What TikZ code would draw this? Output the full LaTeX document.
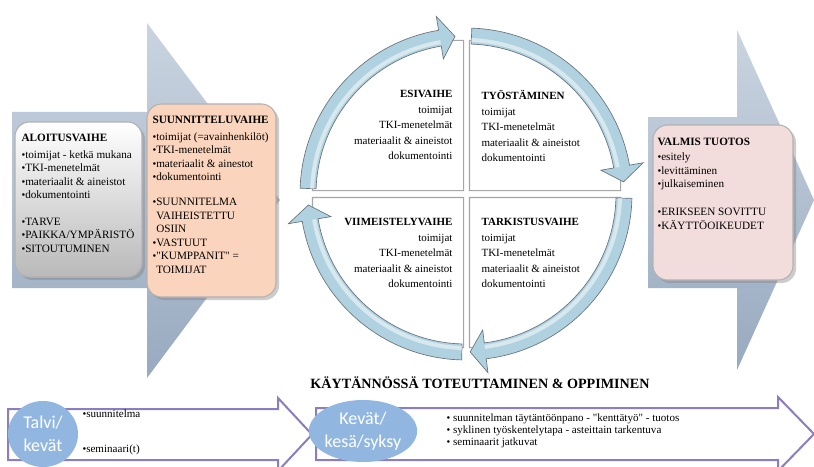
\documentclass[tikz,border=0pt]{standalone}
\usepackage{fontspec}
\setmainfont{Liberation Serif}
\newfontfamily\calibri{Carlito}
\usetikzlibrary{shapes.geometric,shadows}

\definecolor{chevlight}{RGB}{202,212,224}
\definecolor{chevdark}{RGB}{152,170,192}
\definecolor{peach}{RGB}{250,212,188}
\definecolor{rose}{RGB}{242,221,220}
\definecolor{ringfill}{RGB}{176,209,223}
\definecolor{ringline}{RGB}{105,115,125}
\definecolor{lilac}{RGB}{140,126,190}
\definecolor{ovalblue}{RGB}{145,183,225}

\newcommand{\bul}{{\fontsize{8}{8}\selectfont\textbullet}}
\newcommand{\ringarrow}[3]{%
  \draw[ring] (#1:150) arc[start angle=#1,end angle=#2,radius=150]
    -- (#2:137) -- (#3:158) -- (#2:180) -- (#2:166)
    arc[start angle=#2,end angle=#1,radius=166] -- cycle;
  \draw[white,opacity=0.5,line width=3pt] (#1:154) arc[start angle=#1,end angle=#2,radius=154];}

\begin{document}
\begin{tikzpicture}[x=0.75pt,y=-0.75pt,thick,node distance=117.75pt,
    chevron/.style={draw=none,top color=chevlight,bottom color=chevdark},
    phase box/.style={rounded corners=11pt,draw=gray!60,line width=0.8pt,
                      drop shadow={opacity=0.4}},
    phase text/.style={anchor=north west,align=left,inner sep=0pt,
                       font=\fontsize{8.4}{10.1}\selectfont},
    quad/.style={minimum width=112.5pt,minimum height=111.75pt,inner sep=0pt},
    quad line/.style={draw=gray!70,fill=white,line width=0.8pt},
    ring/.style={fill=ringfill,draw=ringline,line width=0.5pt},
    quad text/.style={inner sep=0pt,font=\fontsize{8.25}{11.6}\selectfont},
    lane/.style={draw=lilac,line width=1.5pt,fill=white},
    season/.style={ellipse,fill=ovalblue,text=white,align=center,inner sep=0pt,
                   font=\calibri\fontsize{13.5}{17}\selectfont},
    small list/.style={inner sep=0pt,align=left,font=\fontsize{8.3}{9}\selectfont}]

  \useasboundingbox (0,0) rectangle (814,467);
  \clip (0,0) rectangle (814,467);
  \fill[white] (0,0) rectangle (814,467);

  \path[chevron] (12,112) -- (147,112) -- (147,23) -- (280,200) -- (147,378)
    -- (147,288) -- (12,288) -- cycle;
  \path[chevron] (648,117) -- (737,117) -- (737,30) -- (814,200) -- (737,370)
    -- (737,288) -- (648,288) -- cycle;

  \node[phase box,top color=white,bottom color=gray!55,
        minimum width=95.25pt,minimum height=116.25pt] (aloitus) at (78.5,199.5) {};
  \node[phase box,fill=peach,
        minimum width=96.75pt,minimum height=144.75pt] (suunnittelu) at (211.5,200.5) {};
  \node[phase box,fill=rose,
        minimum width=105pt,minimum height=116.25pt] (valmis) at (723,202.5) {};

  \node[phase text] (aloitustext) at (21,134) {\textbf{ALOITUSVAIHE}\\[2pt]
    \bul toimijat - ketkä mukana\\
    \bul TKI-menetelmät\\
    \bul materiaalit \& aineistot\\
    \bul dokumentointi\\[10pt]
    \bul TARVE\\
    \bul PAIKKA/YMPÄRISTÖ\\
    \bul SITOUTUMINEN};
  \node[phase text] (suunnittelutext) at (152,116) {\textbf{SUUNNITTELUVAIHE}\\[2pt]
    \bul toimijat (=avainhenkilöt)\\
    \bul TKI-menetelmät\\
    \bul materiaalit \& ainestot\\
    \bul dokumentointi\\[9pt]
    \bul SUUNNITELMA\\
    \phantom{\bul}VAIHEISTETTU\\
    \phantom{\bul}OSIIN\\
    \bul VASTUUT\\
    \bul \textquotedbl KUMPPANIT\textquotedbl{} =\\
    \phantom{\bul}TOIMIJAT};
  \node[phase text] (valmistext) at (657,138) {\textbf{VALMIS TUOTOS}\\[1pt]
    \bul esitely\\
    \bul levittäminen\\
    \bul julkaiseminen\\[11pt]
    \bul ERIKSEEN SOVITTU\\
    \bul KÄYTTÖOIKEUDET};

  \node[quad] (esivaihe) at (388,115.5) {};
  \node[quad] (tyostaminen) [right of=esivaihe] {};
  \node[quad] (viimeistely) [below of=esivaihe] {};
  \node[quad] (tarkistus) [right of=viimeistely] {};

  \path[quad line] (esivaihe.south east) -- (esivaihe.north east)
    -- ([shift={(140,0)}]esivaihe.north west) arc[start angle=270,end angle=180,radius=140]
    -- (esivaihe.south west) -- cycle;
  \path[quad line] (tyostaminen.south west) -- (tyostaminen.north west)
    -- ([shift={(-140,0)}]tyostaminen.north east) arc[start angle=270,end angle=360,radius=140]
    -- (tyostaminen.south east) -- cycle;
  \path[quad line] (viimeistely.north east) -- (viimeistely.south east)
    -- ([shift={(140,0)}]viimeistely.south west) arc[start angle=90,end angle=180,radius=140]
    -- (viimeistely.north west) -- cycle;
  \path[quad line] (tarkistus.north west) -- (tarkistus.south west)
    -- ([shift={(-140,0)}]tarkistus.south east) arc[start angle=90,end angle=0,radius=140]
    -- (tarkistus.north east) -- cycle;

  \begin{scope}[shift={(466,194)}]
    \ringarrow{182}{260.5}{266}
    \ringarrow{272}{350}{355.6}
    \ringarrow{1.5}{83}{88.5}
    \ringarrow{91.5}{170.5}{176}
  \end{scope}

  \node[quad text,anchor=north east,align=right] (esitext) at (453,90)
    {\textbf{ESIVAIHE}\\toimijat\\TKI-menetelmät\\materiaalit \& aineistot\\dokumentointi};
  \node[quad text,anchor=north west,align=left] (tyotext) at (481,90)
    {\textbf{TYÖSTÄMINEN}\\toimijat\\TKI-menetelmät\\materiaalit \& aineistot\\dokumentointi};
  \node[quad text,anchor=north east,align=right] (viimtext) at (453,218)
    {\textbf{VIIMEISTELYVAIHE}\\toimijat\\TKI-menetelmät\\materiaalit \& aineistot\\dokumentointi};
  \node[quad text,anchor=north west,align=left] (tarktext) at (481,218)
    {\textbf{TARKISTUSVAIHE}\\toimijat\\TKI-menetelmät\\materiaalit \& aineistot\\dokumentointi};

  \node[font=\bfseries\fontsize{10.6}{12}\selectfont] (kaytanto) at (480,383)
    {KÄYTÄNNÖSSÄ TOTEUTTAMINEN \& OPPIMINEN};

  \path[lane] (8,409) -- (278,409) -- (278,398) -- (312,434.5) -- (278,471)
    -- (278,460) -- (8,460) -- cycle;
  \path[lane] (316,408) -- (778,408) -- (778,397) -- (814,434) -- (778,471)
    -- (778,460) -- (316,460) -- cycle;

  \node[season,minimum width=52.5pt,minimum height=49.5pt] (talvi) at (43,434) {Talvi/\\kevät};
  \node[season,minimum width=66pt,minimum height=46.5pt] (kevat) at (363,431) {Kevät/\\kesä/syksy};

  \node[small list,anchor=west] (talvi1) at (82,414) {\bul suunnitelma};
  \node[small list,anchor=west] (talvi2) at (82,450) {\bul seminaari(t)};
  \node[small list,anchor=north west] (kevatlist) at (446,413)
    {\bul\ suunnitelman täytäntöönpano - \textquotedbl kenttätyö\textquotedbl{} - tuotos\\
     \bul\ syklinen työskentelytapa - asteittain tarkentuva\\
     \bul\ seminaarit jatkuvat};
\end{tikzpicture}
\end{document}
